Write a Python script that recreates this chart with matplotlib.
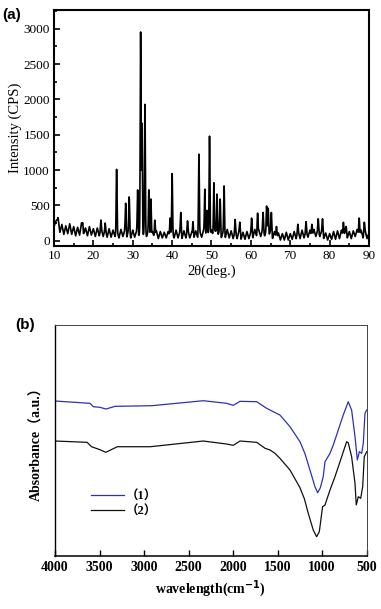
import numpy as np
import matplotlib
matplotlib.use("Agg")
import matplotlib.pyplot as plt
from matplotlib.ticker import MultipleLocator

# ---------------- (a) XRD data ----------------
# background readings every 0.5 deg from 10 to 90
bg_start, bg_step = 10.0, 0.5
bg_values = [
    200, 280, 310, 120, 230, 90, 210, 100, 240, 90, 200, 70, 190, 80, 250, 90, 180, 70, 200, 80, 170,
    60, 180, 70, 170, 60, 160, 50, 170, 50, 150, 60, 140, 40, 160, 60, 150, 50, 170, 40, 150,
    50, 140, 60, 150, 50, 140, 60, 150, 40, 130, 40, 140, 30, 130, 40, 120, 40, 130, 50, 120,
    40, 150, 40, 130, 30, 140, 40, 150, 40, 120, 30, 140, 40, 130, 50, 150, 60, 140, 50, 150,
    60, 150, 50, 140, 40, 130, 40, 160, 40, 140, 30, 130, 30, 140, 20, 120, 20, 130, 30, 120,
    40, 160, 50, 150, 60, 160, 70, 150, 60, 140, 30, 130, 20, 110, 10, 100, 10, 120, 10, 100,
    20, 130, 30, 140, 30, 150, 40, 130, 50, 150, 40, 160, 60, 150, 60, 140, 30, 110, 10, 100,
    20, 130, 20, 140, 30, 150, 50, 140, 40, 130, 30, 140, 60, 160, 60, 150, 40, 150, 30, 110,
]
# peak positions (2theta) and peak heights (CPS)
peak_pos = [11.1, 14.0, 17.3, 19.0, 21.9, 23.0, 25.9, 28.2, 29.1, 31.25, 32.0, 32.35, 33.1,
            34.1, 34.6, 35.6, 39.5, 40.0, 42.2, 43.9, 45.3, 46.8, 48.3, 48.8, 49.5, 50.6,
            51.4, 52.2, 53.2, 56.0, 57.2, 60.2, 61.7, 63.1, 64.0, 64.4, 65.2, 66.5, 71.9,
            74.0, 75.5, 77.1, 78.2, 83.5, 84.2, 87.5, 88.8]
peak_hgt = [300, 230, 250, 180, 290, 250, 1010, 530, 620, 720, 2950, 1660, 1930,
            720, 590, 290, 320, 950, 400, 280, 270, 1225, 730, 430, 1480, 820,
            660, 590, 775, 300, 260, 320, 390, 400, 490, 460, 400, 200, 230,
            270, 230, 310, 310, 260, 200, 320, 260]

# ---------------- (b) FTIR data ----------------
wn1 = [4000, 3607, 3570, 3495, 3427, 3326, 3121, 2914, 2335, 2072, 1998, 1923, 1735, 1623,
       1549, 1474, 1361, 1249, 1193, 1137, 1081, 1051, 1020, 988, 968, 912, 875, 819, 763,
       707, 669, 631, 605, 582, 556, 538, 519, 500]
ab1 = [154.7, 152.4, 149.0, 148.4, 146.7, 149.4, 149.7, 150.0, 155.0, 152.4, 150.4, 154.4, 154.0,
       147.4, 144.0, 140.7, 129.0, 114.0, 102.0, 85.7, 69.0, 63.0, 68.0, 79.0, 94.0, 102.4,
       110.7, 125.7, 140.7, 154.0, 145.7, 119.0, 95.7, 104.0, 102.4, 112.4, 142.4, 145.7]
wn2 = [4000, 3640, 3590, 3495, 3430, 3300, 2930, 2335, 2072, 1998, 1923, 1735, 1641, 1585,
       1530, 1474, 1361, 1249, 1200, 1156, 1100, 1062, 1032, 995, 968, 912, 856, 781, 725, 707,
       669, 631, 617, 594, 567, 545, 527, 500]
ab2 = [114.7, 113.4, 109.0, 106.0, 103.4, 109.0, 109.0, 114.7, 111.7, 110.4, 114.7, 113.4, 107.4,
       105.7, 102.4, 97.4, 85.7, 68.0, 57.0, 42.4, 25.7, 19.0, 24.0, 49.0, 50.7, 65.7, 79.0,
       99.0, 114.0, 113.0, 99.0, 72.4, 50.7, 59.0, 57.4, 69.0, 99.0, 104.0]
legend_labels = ["（1）", "（2）"]
line_colors = ["#2f2fb8", "#111111"]

# ---------------- figure ----------------
fig = plt.figure(figsize=(3.81, 6.09), dpi=100)
serif = ["Liberation Serif", "DejaVu Serif"]
serif_cjk = ["Liberation Serif", "Noto Sans CJK SC"]

# ---- panel (a)
ax1 = fig.add_axes([0.1417, 0.596, 0.8268, 0.3876])
bg_x = bg_start + bg_step * np.arange(len(bg_values))
x = np.arange(10.0, 90.0001, 0.02)
y = np.interp(x, bg_x, bg_values)
for p, h in zip(peak_pos, peak_hgt):
    base = np.interp(p, bg_x, bg_values)
    y = y + max(h - base, 0) * np.exp(-0.5 * ((x - p) / 0.1) ** 2)
ax1.plot(x, y, color="black", lw=1.2)
ax1.set_xlim(10, 90)
ax1.set_ylim(-75, 3265)
ax1.xaxis.set_major_locator(MultipleLocator(10))
ax1.xaxis.set_minor_locator(MultipleLocator(5))
ax1.yaxis.set_major_locator(MultipleLocator(500))
ax1.yaxis.set_minor_locator(MultipleLocator(250))
ax1.tick_params(which="both", direction="in", top=False, right=False, width=1.2)
ax1.tick_params(which="major", length=4, labelsize=9.5, pad=3)
ax1.tick_params(which="minor", length=2.5)
for lab in ax1.get_xticklabels() + ax1.get_yticklabels():
    lab.set_family(serif)
for s in ax1.spines.values():
    s.set_linewidth(1.5)
ax1.set_xlabel("2θ(deg.)", family=serif, fontsize=10.5, labelpad=2)
ax1.set_ylabel("Intensity (CPS)", family=serif, fontsize=10.5, labelpad=1)
fig.text(0.005, 0.987, "(a)", fontsize=11, fontweight="bold", family="Liberation Sans",
         ha="left", va="top")

# ---- panel (b)
ax2 = fig.add_axes([0.1444, 0.0875, 0.8180, 0.3788])
ax2.plot(wn1, ab1, color=line_colors[0], lw=0.9, label=legend_labels[0])
ax2.plot(wn2, ab2, color=line_colors[1], lw=0.9, label=legend_labels[1])
ax2.set_xlim(4000, 500)
ax2.set_ylim(0, 230.7)
ax2.set_xticks([4000, 3500, 3000, 2500, 2000, 1500, 1000, 500])
ax2.set_yticks([])
ax2.tick_params(axis="x", direction="in", length=4, width=1.0, labelsize=10, pad=4)
for lab in ax2.get_xticklabels():
    lab.set_family(serif)
    lab.set_fontweight("bold")
ax2.spines["bottom"].set_linewidth(1.1)
ax2.spines["left"].set_linewidth(1.0)
for k in ["top", "right"]:
    ax2.spines[k].set_linewidth(0.7)
    ax2.spines[k].set_color("#444444")
ax2.set_xlabel("wavelength(cm$^{\\mathbf{-1}}$)", family=serif, fontsize=10, fontweight="bold", labelpad=3)
ax2.set_ylabel("Absorbance（a.u.）", family=serif_cjk, fontsize=10, fontweight="bold", labelpad=8)
leg = ax2.legend(loc="upper left", bbox_to_anchor=(0.08, 0.33), frameon=False,
                 prop={"family": serif_cjk, "weight": "bold", "size": 9},
                 handlelength=2.6, handletextpad=0.2, labelspacing=0.2)
fig.text(0.04, 0.466, "(b)", fontsize=11, fontweight="bold", family="Liberation Sans",
         ha="left", va="center")

fig.savefig("out.png", dpi=100)
